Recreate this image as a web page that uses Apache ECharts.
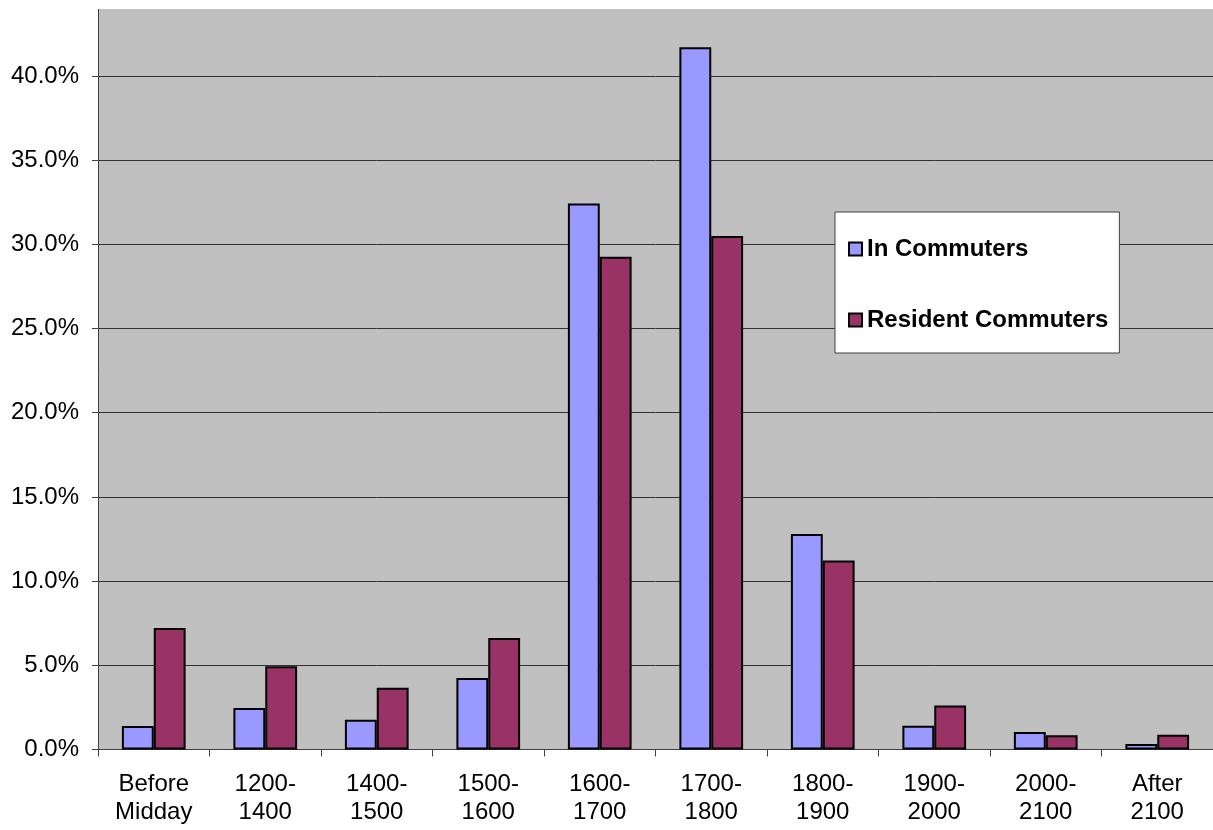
<!DOCTYPE html>
<html>
<head>
<meta charset="utf-8">
<script src="https://cdn.jsdelivr.net/npm/echarts@6/dist/echarts.min.js"></script>
<style>
  html, body { margin: 0; padding: 0; background: #ffffff; }
  #chart { width: 1213px; height: 830px; }
</style>
</head>
<body>
<div id="chart"></div>
<script>
// Departure time bands
const categories = ['Before\nMidday', '1200-\n1400', '1400-\n1500', '1500-\n1600', '1600-\n1700',
                    '1700-\n1800', '1800-\n1900', '1900-\n2000', '2000-\n2100', 'After\n2100'];
// Share of each group (percent)
const inCommuters       = [1.40, 2.46, 1.77, 4.25, 32.43, 41.70, 12.80, 1.41, 1.04, 0.33];
const residentCommuters = [7.21, 4.94, 3.67, 6.62, 29.26, 30.49, 11.23, 2.62, 0.84, 0.88];
const seriesNames = ['In Commuters', 'Resident Commuters'];

const FONT = '"Liberation Sans", Arial, sans-serif';

const chart = echarts.init(document.getElementById('chart'), null, { renderer: 'canvas' });

chart.setOption({
  animation: false,
  backgroundColor: '#ffffff',
  textStyle: { fontFamily: FONT },
  grid: {
    show: true,
    left: 98,
    right: 0,
    top: -8.3,
    bottom: 80.5,
    backgroundColor: '#c0c0c0',
    borderWidth: 0,
    containLabel: false,
    outerBoundsMode: 'none'
  },
  legend: {
    orient: 'vertical',
    left: 835,
    top: 212,
    padding: [25, 11, 21, 13],
    itemGap: 47,
    itemWidth: 13,
    itemHeight: 13,
    icon: 'rect',
    backgroundColor: '#ffffff',
    borderColor: '#404040',
    borderWidth: 1,
    textStyle: { fontFamily: FONT, fontSize: 24, fontWeight: 'bold', color: '#000000' },
    data: seriesNames
  },
  xAxis: {
    type: 'category',
    data: categories,
    boundaryGap: true,
    axisLine: { show: true, lineStyle: { color: '#404040', width: 1 } },
    axisTick: { show: true, alignWithLabel: false, length: 7, inside: false, lineStyle: { color: '#404040', width: 1 } },
    axisLabel: {
      interval: 0,
      margin: 21,
      fontFamily: FONT,
      fontSize: 24,
      lineHeight: 28,
      color: '#000000'
    },
    splitLine: { show: false }
  },
  yAxis: {
    type: 'value',
    min: 0,
    max: 45,
    interval: 5,
    axisLine: { show: true, lineStyle: { color: '#404040', width: 1 } },
    axisTick: { show: true, length: 6, lineStyle: { color: '#404040', width: 1 } },
    axisLabel: {
      margin: 19,
      fontFamily: FONT,
      fontSize: 24,
      color: '#000000',
      formatter: v => v.toFixed(1) + '%'
    },
    splitLine: { show: true, lineStyle: { color: '#333333', width: 1 } }
  },
  series: [
    {
      name: seriesNames[0],
      type: 'bar',
      data: inCommuters,
      barGap: '0%',
      barCategoryGap: '42.86%',
      itemStyle: { color: '#9999ff', borderColor: '#000000', borderWidth: 2 }
    },
    {
      name: seriesNames[1],
      type: 'bar',
      data: residentCommuters,
      barGap: '0%',
      barCategoryGap: '42.86%',
      itemStyle: { color: '#993366', borderColor: '#000000', borderWidth: 2 }
    }
  ],
  graphic: [
    {
      // white page margin above the plot area
      type: 'rect',
      left: 0,
      top: 0,
      z: 100,
      shape: { width: 1213, height: 9 },
      style: { fill: '#ffffff' }
    }
  ]
});
</script>
</body>
</html>
